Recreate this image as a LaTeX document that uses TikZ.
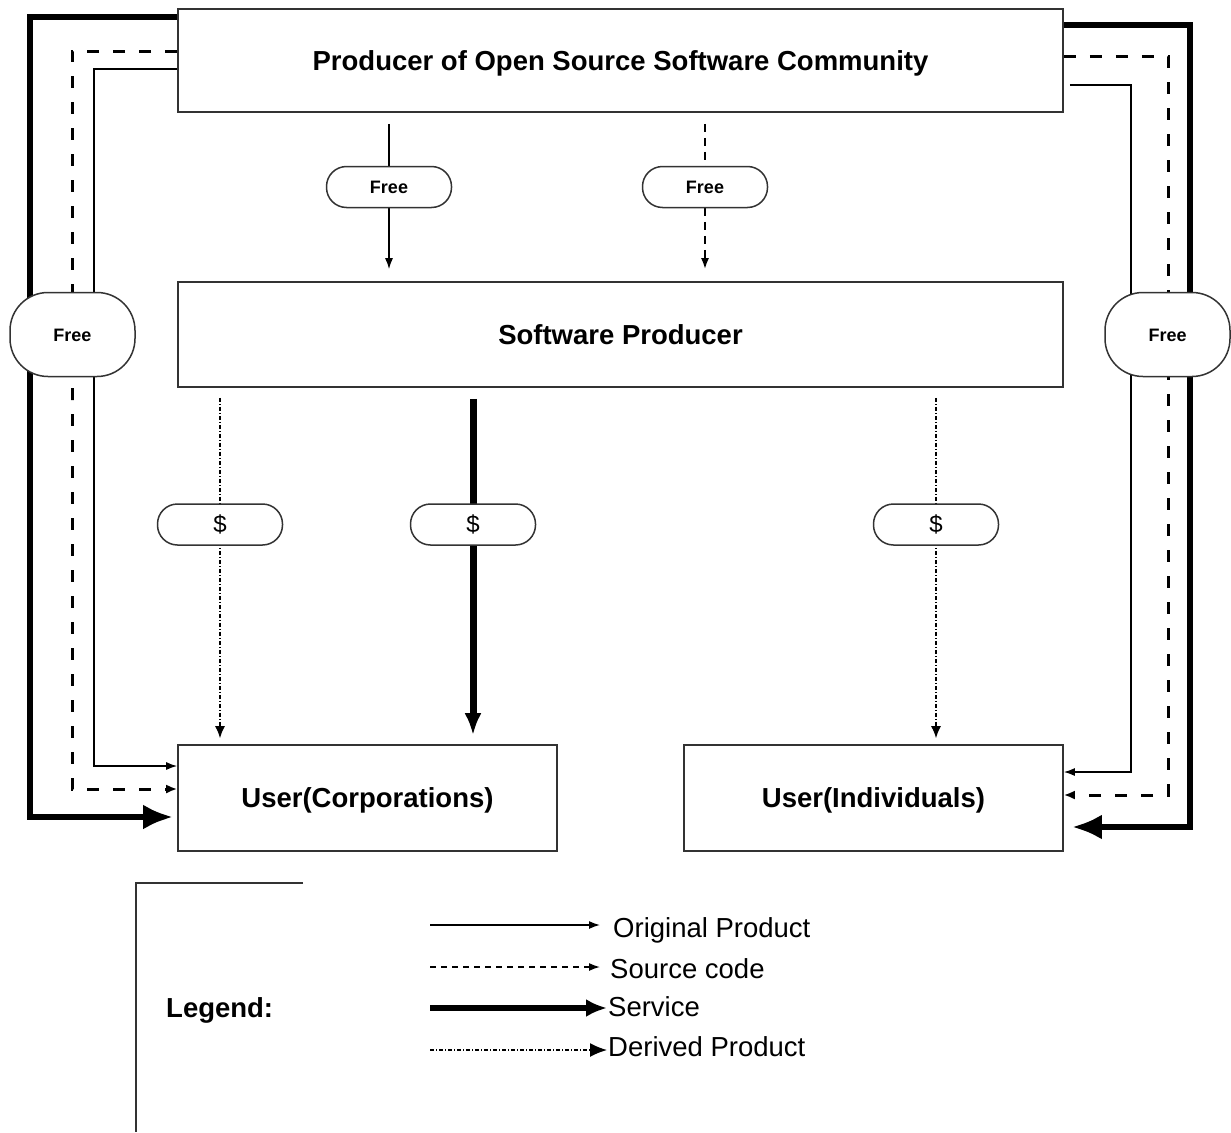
\documentclass[tikz,border=0pt]{standalone}
\usepackage{fontspec}
\setmainfont{Liberation Sans}
\usetikzlibrary{arrows.meta}
\pgfdeclarelayer{lines}
\pgfsetlayers{lines,main}
\begin{document}
\begin{tikzpicture}[x=1pt, y=-1pt,
  every node/.style={inner sep=0pt},
  entity/.style={draw=black!80, line width=1.6pt, text height=19.7pt, text depth=0pt,
    font=\bfseries\fontsize{27.5}{33}\selectfont},
  pill/.style={draw=black!80, fill=white, line width=1.5pt, rounded corners=20pt,
    minimum width=125pt, minimum height=41pt},
  freetag/.style={pill, font=\bfseries\fontsize{18}{22}\selectfont, text height=13pt, text depth=0pt},
  pricetag/.style={pill, font=\fontsize{24}{28}\selectfont},
  sidetag/.style={draw=black!80, fill=white, line width=1.5pt, rounded corners=38pt,
    minimum width=125pt, minimum height=84pt,
    font=\bfseries\fontsize{18}{22}\selectfont, text height=13pt, text depth=0pt},
  legtext/.style={anchor=west, font=\fontsize{27.5}{33}\selectfont, text height=19.7pt, text depth=0pt},
  orig/.style={line width=1.5pt, -{Latex[length=11pt,width=8pt]}},
  src/.style={line width=3pt, dash pattern=on 12pt off 14pt, -{Latex[length=11pt,width=9pt]}},
  srcfine/.style={line width=2pt, dash pattern=on 8pt off 6pt, -{Latex[length=11pt,width=8pt]}},
  legsrc/.style={line width=1.5pt, dash pattern=on 6pt off 5pt, -{Latex[length=11pt,width=8pt]}},
  service/.style={line width=6pt, -{Latex[length=30pt,width=25pt]}},
  servmid/.style={line width=7pt, -{Latex[length=22pt,width=17pt]}},
  legserv/.style={line width=6pt, -{Latex[length=21pt,width=18pt]}},
  derived/.style={line width=1.5pt, dash pattern=on 4pt off 2pt on 1pt off 2pt, -{Latex[length=12pt,width=10pt]}},
]
\useasboundingbox (0,0) rectangle (1231,1132);

% actors
\node[entity, minimum width=885pt, minimum height=103pt] (comm) at (620.5,60.5)
  {Producer of Open Source Software Community};
\node[entity, minimum width=885pt, minimum height=105pt] (sp) at (620.5,334.5) {Software Producer};
\node[entity, minimum width=379pt, minimum height=106pt] (corp) at (367.5,798) {User(Corporations)};
\node[entity, minimum width=379pt, minimum height=106pt] (ind) at (873.5,798) {User(Individuals)};

% price tags on the flows
\node[freetag] (f1) at (389,187) {Free};
\node[freetag] (f2) at (705,187) {Free};
\node[pricetag] (p1) at (220,524.5) {\$};
\node[pricetag] (p2) at (473,524.5) {\$};
\node[pricetag] (p3) at (936,524.5) {\$};
\node[sidetag] (fl) at (72.5,334.5) {Free};
\node[sidetag] (fr) at (1167.5,334.5) {Free};

% bends of the outer loops
\coordinate (lk) at (30,400);
\coordinate (ls) at (72,400);
\coordinate (lo) at (94,400);
\coordinate (rk) at (1190,400);
\coordinate (rs) at (1168,400);
\coordinate (ro) at (1131,400);

\begin{pgfonlayer}{lines}
  % community -> software producer
  \draw[orig, shorten <=11pt, shorten >=12pt] (comm.south -| f1) -- (sp.north -| f1);
  \draw[srcfine, shorten <=11pt, shorten >=12pt] (comm.south -| f2) -- (sp.north -| f2);
  % software producer -> users
  \draw[derived, shorten <=10pt, shorten >=6pt] (sp.south -| p1) -- (corp.north -| p1);
  \draw[servmid, shorten <=11pt, shorten >=9pt] (sp.south -| p2) -- (corp.north -| p2);
  \draw[derived, shorten <=10pt, shorten >=6pt] (sp.south -| p3) -- (ind.north -| p3);
  % community -> corporations (left loops)
  \draw[service, shorten >=4pt] ([yshift=-9pt]comm.north west) -| (lk) |- ([yshift=-19pt]corp.west);
  \draw[src] ([yshift=-43pt]comm.north west) -| (ls) |- ([yshift=9pt]corp.west);
  \draw[orig] ([yshift=-61pt]comm.north west) -| (lo) |- ([yshift=32pt]corp.west);
  % community -> individuals (right loops)
  \draw[service, shorten >=8pt] ([yshift=-17pt]comm.north east) -| (rk) |- ([yshift=-29pt]ind.east);
  \draw[src] ([yshift=-48pt]comm.north east) -| (rs) |- ([yshift=3pt]ind.east);
  \draw[orig, shorten <=6pt] ([yshift=-77pt]comm.north east) -| (ro) |- ([yshift=26pt]ind.east);
\end{pgfonlayer}

% legend
\draw[draw=black!80, line width=1.5pt] (303,883) -- (136,883) -- (136,1132);
\node[anchor=west, font=\bfseries\fontsize{27.5}{33}\selectfont, text height=19.7pt, text depth=0pt]
  (leg) at (166,1008) {Legend:};
\node[legtext] (l1) at (613,928) {Original Product};
\node[legtext] (l2) at (610,969) {Source code};
\node[legtext] (l3) at (608,1007) {Service};
\node[legtext] (l4) at (608,1047) {Derived Product};
\coordinate (k1) at (430,925);
\coordinate (k2) at (430,967);
\coordinate (k3) at (430,1008);
\coordinate (k4) at (430,1050);
\draw[orig, shorten >=13pt] (k1) -- (k1 -| l1.west);
\draw[legsrc, shorten >=10pt] (k2) -- (k2 -| l2.west);
\draw[legserv, shorten >=1pt] (k3) -- (k3 -| l3.west);
\draw[derived, -{Latex[length=17pt,width=14pt]}, shorten >=1pt] (k4) -- (k4 -| l4.west);
\end{tikzpicture}
\end{document}
